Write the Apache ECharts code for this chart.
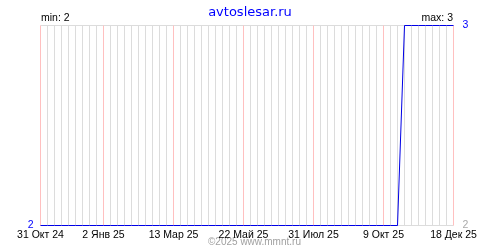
<!DOCTYPE html>
<html>
<head>
<meta charset="utf-8">
<script src="https://cdn.jsdelivr.net/npm/echarts@6/dist/echarts.min.js"></script>
<style>html,body{margin:0;padding:0;background:#fff;}#c{width:500px;height:250px;}</style>
</head>
<body>
<div id="c"></div>
<script>
const titleText = 'avtoslesar.ru';
const footerText = '©2025 www.mmnt.ru';
const startDate = '2024-10-31';
const endDate = '2025-12-18';
const tickDates = ['2024-10-31','2025-01-02','2025-03-13','2025-05-22','2025-07-31','2025-10-09','2025-12-18'];
const tickLabels = ['31 Окт 24','2 Янв 25','13 Мар 25','22 Май 25','31 Июл 25','9 Окт 25','18 Дек 25'];
// weekly values, one per week starting at startDate
const weeklyValues = [
  2,2,2,2,2,2,2,2,2,2,
  2,2,2,2,2,2,2,2,2,2,
  2,2,2,2,2,2,2,2,2,2,
  2,2,2,2,2,2,2,2,2,2,
  2,2,2,2,2,2,2,2,2,2,
  2,2,3,3,3,3,3,3,3,3
];
const minValue = 2, maxValue = 3;

const DAY = 86400000;
const dayOf = d => Math.round((Date.parse(d) - Date.parse(startDate)) / DAY);
const tickDays = tickDates.map(dayOf);
const lastDay = dayOf(endDate);
const seriesData = weeklyValues.map((v, i) => [i * 7, v]);

const GRAY = '#dcdcdc', PINK = '#ffc0c0';
// one colour per weekly grid line: pink where a date label sits
const weekLineColors = [];
for (let d = 0; d <= lastDay; d += 7) weekLineColors.push(tickDays.indexOf(d) >= 0 ? PINK : GRAY);

const font = 'Liberation Sans';
const chart = echarts.init(document.getElementById('c'), null, {renderer: 'canvas'});
chart.setOption({
  animation: false,
  backgroundColor: '#fff',
  title: {
    text: titleText, left: 'center', top: 1,
    textStyle: {color: '#0000ff', fontSize: 13, fontWeight: 'normal', fontFamily: 'DejaVu Sans'}
  },
  grid: {left: 40.5, right: 46.5, top: 25.5, bottom: 24.5, containLabel: false},
  xAxis: {
    type: 'value', min: 0, max: lastDay, interval: 7,
    axisLine: {show: false}, axisTick: {show: false},
    splitLine: {show: true, lineStyle: {color: weekLineColors, width: 1}},
    axisLabel: {
      show: true, margin: 4, color: '#000', fontSize: 10.5, fontFamily: font,
      showMinLabel: true, showMaxLabel: true, hideOverlap: false,
      formatter: v => { const k = tickDays.indexOf(Math.round(v)); return k >= 0 ? tickLabels[k] : ''; }
    }
  },
  yAxis: [{
    type: 'value', min: minValue, max: maxValue, interval: 1, position: 'left',
    axisLine: {show: false}, axisTick: {show: false},
    splitLine: {show: true, lineStyle: {color: GRAY, width: 1}},
    axisLabel: {margin: 7, color: '#0000ff', fontSize: 10.5, fontFamily: font,
      formatter: v => v === minValue ? String(v) : ''}
  }, {
    type: 'value', min: minValue, max: maxValue, interval: 1, position: 'right',
    axisLine: {show: false}, axisTick: {show: false}, splitLine: {show: false},
    axisLabel: {margin: 9, fontSize: 10.5, fontFamily: font,
      formatter: v => v === maxValue ? '{b|' + v + '}' : '{g|' + v + '}',
      rich: {b: {color: '#0000ff', fontSize: 10.5, fontFamily: font}, g: {color: '#aaaaaa', fontSize: 10.5, fontFamily: font}}}
  }],
  graphic: [
    {type: 'text', left: 41, top: 13, style: {text: 'min: ' + minValue, fill: '#000', font: '10.5px "Liberation Sans"'}},
    {type: 'text', right: 47, top: 13, style: {text: 'max: ' + maxValue, fill: '#000', font: '10.5px "Liberation Sans"'}},
    {type: 'text', left: 208, bottom: 3, style: {text: footerText, fill: '#a0a0a0', font: '10px "Liberation Sans"'}}
  ],
  series: [{
    type: 'line', data: seriesData, showSymbol: false, symbol: 'none',
    lineStyle: {color: '#0000e6', width: 1}, z: 5
  }]
});
</script>
</body>
</html>
